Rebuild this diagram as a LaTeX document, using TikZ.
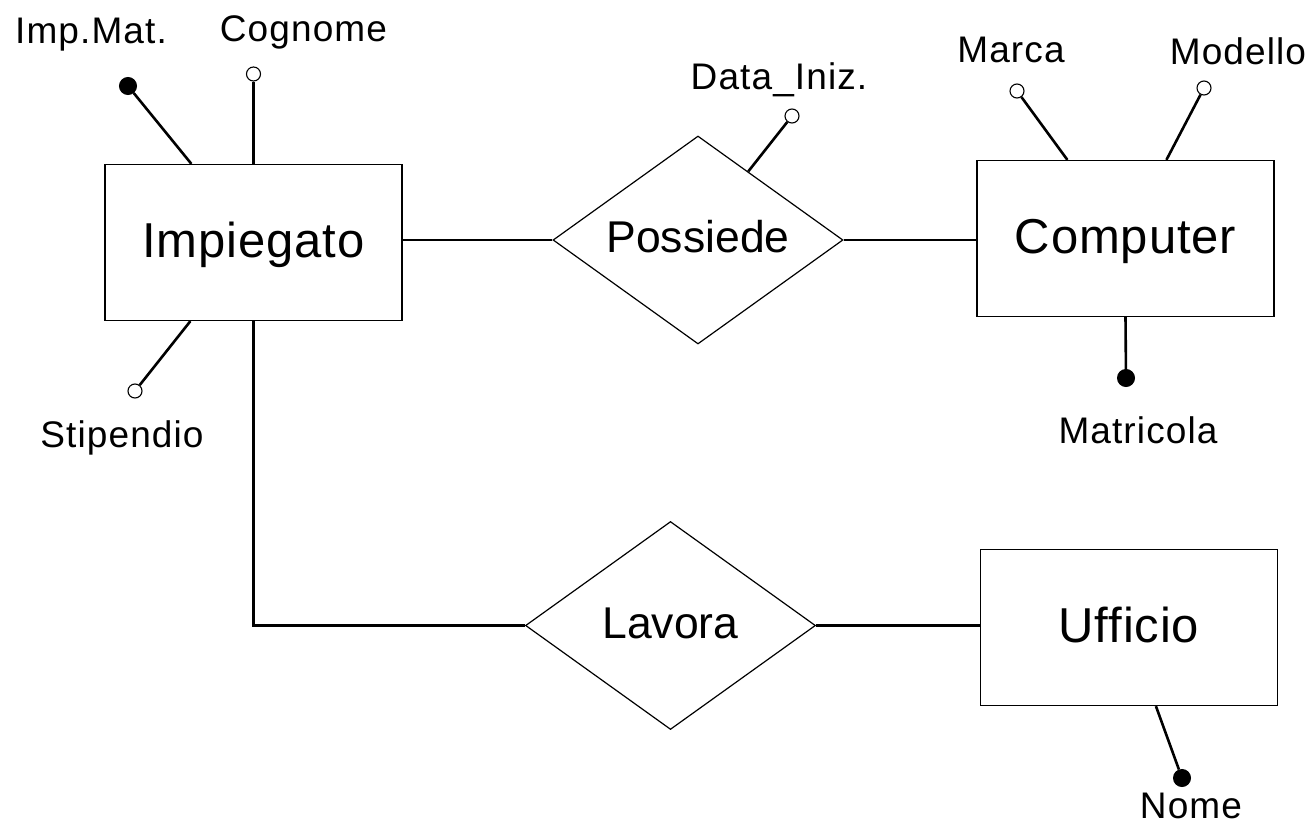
\documentclass[tikz,border=0pt]{standalone}
\usepackage{fontspec}
\setmainfont{Liberation Sans}
\newfontfamily\entfont[LetterSpace=1.8]{Liberation Sans}
\newfontfamily\attfont[LetterSpace=3]{Liberation Sans}
\usetikzlibrary{shapes.geometric,calc}

\begin{document}
\begin{tikzpicture}[x=1pt,y=-1pt,
  entity/.style={draw,line width=1.2pt,minimum width=297pt,minimum height=156pt,
    inner sep=0pt,font=\entfont\fontsize{49}{49}\selectfont,
    text height=36pt,text depth=7pt},
  relation/.style={draw,diamond,aspect=1.4,line width=1.2pt,minimum width=290pt,
    minimum height=208pt,inner sep=0pt,font=\fontsize{44.5}{44.5}\selectfont,
    text height=33pt,text depth=7.5pt},
  keydot/.style={circle,draw,fill=black,line width=1pt,minimum size=17pt,inner sep=0pt},
  opendot/.style={circle,draw,fill=white,line width=1.1pt,minimum size=14pt,inner sep=0pt},
  attrlabel/.style={anchor=base,inner sep=0pt,font=\attfont\fontsize{37}{37}\selectfont},
  conn/.style={line width=2.6pt}]

\useasboundingbox (0,0) rectangle (1315,830);

% entities
\node[entity] (imp)  at (253.5,242.5) {Impiegato};
\node[entity] (comp) at (1125.5,238.5) {Computer};
\node[entity] (uff)  at (1129,627.5) {Ufficio};

% relationships
\node[relation] (pos) at (698,240) {Possiede};
\node[relation] (lav) at (670.5,625.5) {Lavora};

% relationship links
\draw[conn] (pos.west) -- (pos.west -| imp.east);
\draw[conn] (pos.east) -- (pos.east -| comp.west);
\draw[conn] (imp.south) |- (lav.west);
\draw[conn] (lav.east) -- (lav.east -| uff.west);

% attribute dots
\node[keydot]  (impmat)   at (128,86) {};
\node[opendot] (cognome)  at (253.5,74) {};
\node[opendot] (stip)     at (135,391) {};
\node[opendot] (datain)   at (792,116) {};
\node[opendot] (marca)    at (1017,91) {};
\node[opendot] (modello)  at (1204,88) {};
\node[keydot]  (matr)     at (1126,378) {};
\node[keydot]  (nome)     at (1182,778) {};

% attachment points on the borders
\coordinate (imp-a)  at ([xshift=87pt]imp.north west);
\coordinate (imp-b)  at (imp.north);
\coordinate (imp-c)  at ([xshift=86pt]imp.south west);
\coordinate (pos-a)  at ($(pos.north)!0.345!(pos.east)$);
\coordinate (comp-a) at ([xshift=91pt]comp.north west);
\coordinate (comp-b) at ([xshift=190pt]comp.north west);
\coordinate (comp-c) at (comp.south);
\coordinate (uff-a)  at ([xshift=176pt]uff.south west);

% attribute links
\draw[conn] (imp-a)  -- (impmat);
\draw[conn] (imp-b)  -- (cognome);
\draw[conn] (imp-c)  -- (stip);
\draw[conn] (pos-a)  -- (datain);
\draw[conn] (comp-a) -- (marca);
\draw[conn] (comp-b) -- (modello);
\draw[conn] (comp-c) -- (matr);
\draw[conn] (uff-a)  -- (nome);

% attribute names
\node[attrlabel] (l-impmat)  at (91,43)    {Imp.Mat.};
\node[attrlabel] (l-cognome) at (303.5,41) {Cognome};
\node[attrlabel] (l-stip)    at (122,447)  {Stipendio};
\node[attrlabel] (l-datain)  at (779,89)   {Data\_Iniz.};
\node[attrlabel] (l-marca)   at (1011,62)  {Marca};
\node[attrlabel] (l-modello) at (1238,64)  {Modello};
\node[attrlabel] (l-matr)    at (1138,443) {Matricola};
\node[attrlabel] (l-nome)    at (1191,818) {Nome};
\end{tikzpicture}
\end{document}
